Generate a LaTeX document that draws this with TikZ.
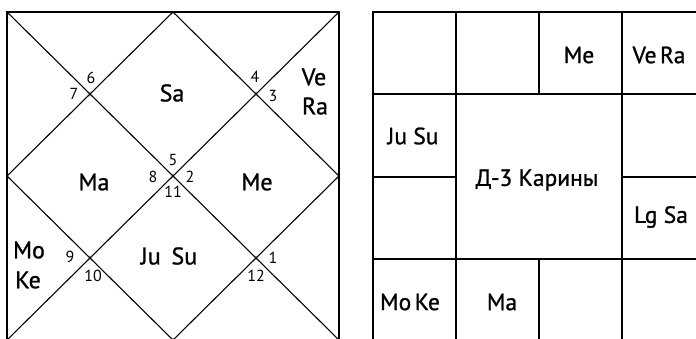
\documentclass[tikz,border=0pt]{standalone}
\usepackage{fontspec}
\setmainfont{PT Sans}
\newfontfamily\numfont{PT Sans}
\newfontfamily\lblfont{PT Sans}[FakeBold=1.0]
\begin{document}
\begin{tikzpicture}[x=1pt,y=-1pt,
  ln/.style={line width=1.1pt,black},
  pl/.style={font=\lblfont\fontsize{24}{26}\selectfont,inner sep=0pt,anchor=center},
  rl/.style={font=\lblfont\fontsize{23.5}{25}\selectfont,inner sep=0pt,anchor=center},
  num/.style={font=\numfont\fontsize{16}{17}\selectfont,inner sep=0pt,anchor=center}]
\useasboundingbox (0,0) rectangle (696,338);
\clip (0,0) rectangle (696,338);
% left chart
\coordinate (TL) at (7,12);
\coordinate (TR) at (339,12);
\coordinate (BL) at (7,340);
\coordinate (BR) at (339,340);
\coordinate (TM) at (173,12);
\coordinate (BM) at (173,340);
\coordinate (LM) at (7,176);
\coordinate (RM) at (339,176);
\draw[ln] (TL) rectangle (BR);
\draw[ln] (TL) -- (BR);
\draw[ln] (TR) -- (BL);
\draw[ln] (TM) -- (RM) -- (BM) -- (LM) -- cycle;
% planets
\node[pl] (sa) at (172,93) {Sa};
\node[pl] (ve) at (314,77) {Ve};
\node[pl] (ra) at (315,106) {Ra};
\node[pl] (ma) at (94,182) {Ma};
\node[pl] (me) at (257,182) {Me};
\node[pl] (mo) at (29,250) {Mo};
\node[pl] (ke) at (28,280) {Ke};
\node[pl] (jusu) at (169,256) {Ju\hspace{0.45em}Su};
% house numbers
\node[num] (n6) at (91,78) {6};
\node[num] (n7) at (74,94) {7};
\node[num] (n4) at (255,77) {4};
\node[num] (n3) at (273,96) {3};
\node[num] (n5) at (173,160) {5};
\node[num] (n8) at (153,177) {8};
\node[num] (n2) at (190,177) {2};
\node[num] (n11) at (173,192) {11};
\node[num] (n9) at (70,257) {9};
\node[num] (n10) at (93,276) {10};
\node[num] (n1) at (273,258) {1};
\node[num] (n12) at (256,276) {12};
% right chart
\coordinate (r00) at (373,12);
\coordinate (r40) at (705,12);
\coordinate (r04) at (373,341);
\coordinate (r44) at (705,341);
\coordinate (r01) at (373,94);
\coordinate (r41) at (705,94);
\coordinate (r03) at (373,259);
\coordinate (r43) at (705,259);
\coordinate (r02) at (373,177);
\coordinate (r12) at (456,177);
\coordinate (r32) at (622,177);
\coordinate (r42) at (705,177);
\coordinate (r10) at (456,12);
\coordinate (r14) at (456,341);
\coordinate (r30) at (622,12);
\coordinate (r34) at (622,341);
\coordinate (r20) at (539,12);
\coordinate (r21) at (539,94);
\coordinate (r23) at (539,259);
\coordinate (r24) at (539,341);
\draw[ln] (r00) rectangle (r44);
\draw[ln] (r01) -- (r41);
\draw[ln] (r03) -- (r43);
\draw[ln] (r02) -- (r12);
\draw[ln] (r32) -- (r42);
\draw[ln] (r10) -- (r14);
\draw[ln] (r30) -- (r34);
\draw[ln] (r20) -- (r21);
\draw[ln] (r23) -- (r24);
\node[rl] (rme) at (579,55) {Me};
\node[rl] (rvera) at (659,55) {Ve\hspace{0.15em}Ra};
\node[rl] (rjusu) at (413,136) {Ju Su};
\node[rl] (title) at (537,180) {Д-3 Карины};
\node[rl] (rlgsa) at (661,217) {Lg Sa};
\node[rl] (rmoke) at (410,302) {Mo\hspace{0.15em}Ke};
\node[rl] (rma) at (502,302) {Ma};
\end{tikzpicture}
\end{document}
